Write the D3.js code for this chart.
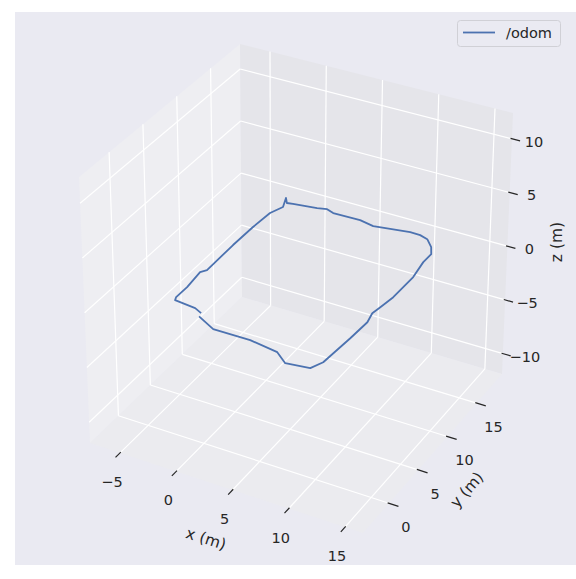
<!DOCTYPE html>
<html><head><meta charset="utf-8">
<script src="https://cdn.jsdelivr.net/npm/d3@7"></script>
<style>body{margin:0;background:#fff}svg{display:block}text{font-family:"DejaVu Sans",sans-serif;fill:#262626}</style>
</head><body><svg id="c" width="576" height="579"></svg>
<script>
// axis limits and ticks
const xLim = [-7.67, 16.6], yLim = [-4.45, 19.35], zLim = [-11.9, 12.4];
const xTicks = [-5, 0, 5, 10, 15];
const yTicks = [0, 5, 10, 15];
const zTicks = [-10, -5, 0, 5, 10];
// /odom trajectory (m)
const odomX = [0.1, 1.93, 5.15, 7.78, 9.05, 11.06, 11.54, 11.78, 11.88, 11.61, 11.76, 11.98, 12.0, 11.68, 11.69, 11.2, 10.36, 9.57, 8.65, 5.59, 4.23, 1.82, 1.1, 0.32, -1.68, -2.18, -2.62, -2.15, -2.6, -2.73, -2.76, -2.69, -3.01, -2.79, -2.8, -2.65, -0.75, 0.0];
const odomY = [-0.5, -1.55, -1.51, -1.98, -3.03, -2.7, -1.49, 2.45, 5.04, 6.33, 7.36, 9.06, 12.26, 14.47, 15.74, 16.61, 17.47, 17.73, 17.76, 17.23, 17.53, 17.47, 17.76, 17.54, 17.21, 17.12, 17.73, 16.47, 15.23, 12.82, 9.79, 5.64, 5.13, 2.74, 1.06, 0.64, 0.4, 0.0];
const odomZ = [0,0,0,0,0,0,0,0,0,0,0,0,0,0,0,0,0,0,0,0,0,0,0,0,0,0,0,0,0,0,0,0,0,0,0,0,0,0];

const svg = d3.select("#c");
const xS = d3.scaleLinear().domain(xLim).range([0,1]);
const yS = d3.scaleLinear().domain(yLim).range([0,1]);
const zS = d3.scaleLinear().domain(zLim).range([0,1]);
// screen corners of the box (floor and top)
const F = {c00:[90,443], c10:[363,533], c11:[502,374], c01:[242,297]};
const T = {c00:[79,177], c10:[363,259], c11:[513,113], c01:[240,44]};
function bil(C,u,v){
  return [0,1].map(i => C.c00[i]*(1-u)*(1-v) + C.c10[i]*u*(1-v) + C.c11[i]*u*v + C.c01[i]*(1-u)*v);
}
function P(x,y,z){
  const u=xS(x), v=yS(y), w=zS(z);
  const b=bil(F,u,v), t=bil(T,u,v);
  return [b[0]+(t[0]-b[0])*w, b[1]+(t[1]-b[1])*w];
}
const [x0,x1]=xLim,[y0,y1]=yLim,[z0,z1]=zLim;
svg.append("rect").attr("x",15).attr("y",12).attr("width",561).attr("height",553).attr("fill","#eaeaf2");
const poly = pts => pts.map(p=>P(...p).join(",")).join(" ");
svg.append("polygon").attr("points",poly([[x0,y0,z0],[x0,y1,z0],[x0,y1,z1],[x0,y0,z1]])).attr("fill","#eeeef2");
svg.append("polygon").attr("points",poly([[x0,y1,z0],[x1,y1,z0],[x1,y1,z1],[x0,y1,z1]])).attr("fill","#e5e5ea");
svg.append("polygon").attr("points",poly([[x0,y0,z0],[x1,y0,z0],[x1,y1,z0],[x0,y1,z0]])).attr("fill","#ebebef");
const line = d3.line();
const grid = svg.append("g").attr("stroke","#fff").attr("stroke-width",1.2).attr("fill","none");
function seg(g,a,b,cls){ g.append("path").attr("d",line([P(...a),P(...b)])); }
xTicks.forEach(t=>{ seg(grid,[t,y0,z0],[t,y1,z0]); seg(grid,[t,y1,z0],[t,y1,z1]); });
yTicks.forEach(t=>{ seg(grid,[x0,t,z0],[x1,t,z0]); seg(grid,[x0,t,z0],[x0,t,z1]); });
zTicks.forEach(t=>{ seg(grid,[x0,y0,t],[x0,y1,t]); seg(grid,[x0,y1,t],[x1,y1,t]); });
// trajectory
const pts = odomX.map((x,i)=>P(x,odomY[i],odomZ[i]));
svg.append("path").attr("d",line(pts)).attr("fill","none").attr("stroke","#4c72b0").attr("stroke-width",1.8).attr("stroke-linejoin","round");
// ticks
const tk = svg.append("g").attr("stroke","#262626").attr("stroke-width",1.2);
const Ry=y1-y0, Rx=x1-x0;
xTicks.forEach(t=>{
  seg(tk,[t,y0+0.005*Ry,z0],[t,y0-0.03*Ry,z0]);
  const p=P(t,y0,z0);
  svg.append("text").attr("x",p[0]-8).attr("y",p[1]+29).attr("text-anchor","middle").attr("dominant-baseline","central").attr("font-size",14.5).text(d3.format("")(t).replace("-","\u2212"));
});
yTicks.forEach(t=>{
  seg(tk,[x1-0.005*Rx,t,z0],[x1+0.035*Rx,t,z0]);
  const p=P(x1,t,z0);
  svg.append("text").attr("x",p[0]+17).attr("y",p[1]+24).attr("text-anchor","middle").attr("dominant-baseline","central").attr("font-size",14.5).text(t);
});
zTicks.forEach(t=>{
  seg(tk,[x1-0.005*Rx,y1,t],[x1+0.03*Rx,y1,t]);
  const p=P(x1,y1,t);
  svg.append("text").attr("x",p[0]+22).attr("y",p[1]+3).attr("text-anchor","middle").attr("dominant-baseline","central").attr("font-size",14.5).text(String(t).replace("-","\u2212"));
});
// axis labels
svg.append("text").attr("transform","translate(206,539) rotate(18)").attr("text-anchor","middle").attr("dominant-baseline","central").attr("font-size",15.5).text("x (m)");
svg.append("text").attr("transform","translate(467,490) rotate(-49)").attr("text-anchor","middle").attr("dominant-baseline","central").attr("font-size",15.5).text("y (m)");
svg.append("text").attr("transform","translate(557,242) rotate(-90)").attr("text-anchor","middle").attr("dominant-baseline","central").attr("font-size",15.5).text("z (m)");
// legend
svg.append("rect").attr("x",457.5).attr("y",20.5).attr("width",103).attr("height",26).attr("rx",3).attr("fill","#eaeaf2").attr("stroke","#d0d0d6");
svg.append("line").attr("x1",463).attr("x2",495).attr("y1",32.5).attr("y2",32.5).attr("stroke","#4c72b0").attr("stroke-width",1.8);
svg.append("text").attr("x",506).attr("y",33).attr("dominant-baseline","central").attr("font-size",14.5).text("/odom");
</script></body></html>
